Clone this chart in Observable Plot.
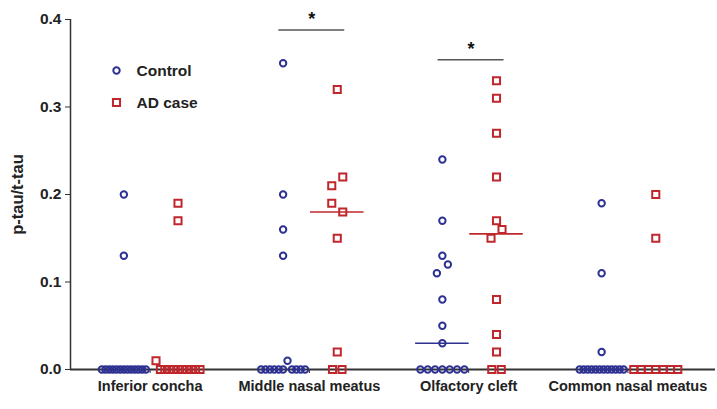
<!DOCTYPE html>
<html><head><meta charset="utf-8">
<script src="https://cdn.jsdelivr.net/npm/d3@7"></script>
<script src="https://cdn.jsdelivr.net/npm/@observablehq/plot@0.6"></script>
<style>
body{margin:0;background:#fff;}
svg text{font-weight:bold;}
</style>
</head><body><div id="chart"></div>
<script>
// ---- data ----
const groups = ["Inferior concha", "Middle nasal meatus", "Olfactory cleft", "Common nasal meatus"];
const seriesNames = ["Control", "AD case"];
const controlValues = [
  [0.20, 0.13, 0, 0, 0, 0, 0, 0, 0, 0, 0, 0, 0, 0, 0],
  [0.35, 0.20, 0.16, 0.13, 0, 0, 0, 0, 0, 0, 0.01, 0, 0, 0, 0],
  [0.24, 0.17, 0.13, 0.12, 0.11, 0.08, 0.05, 0.03, 0, 0, 0, 0, 0, 0, 0],
  [0.19, 0.11, 0.02, 0, 0, 0, 0, 0, 0, 0, 0, 0, 0, 0, 0]
];
const adValues = [
  [0.19, 0.17, 0.01, 0, 0, 0, 0, 0, 0, 0, 0, 0, 0],
  [0.32, 0.22, 0.21, 0.19, 0.18, 0.15, 0.02, 0, 0],
  [0.33, 0.31, 0.27, 0.22, 0.17, 0.16, 0.15, 0.08, 0.04, 0.02, 0, 0],
  [0.20, 0.15, 0, 0, 0, 0, 0, 0, 0]
];
const yTicks = [0, 0.1, 0.2, 0.3, 0.4];
const sigGroups = [1, 2];
const sigLevels = [0.388, 0.354];
const sigLabels = ["*", "*"];

// ---- layout (scatter "swarm" like GraphPad) ----
const colors = ["#2d3192", "#bf272d"];
const xDomain = [-0.5, 3.55];
const W = 717, ML = 70, MR = 2, MT = 19, MB = 40, H = 409;
const pxX = (W - ML - MR) / (xDomain[1] - xDomain[0]);
const sideOffset = [-0.165, 0.175];

function layout(values, gi, si) {
  const base = gi + sideOffset[si];
  const out = [];
  // row of (near) zero values, compressed to a fixed width
  const rowIdx = values.map((v, i) => i).filter(i => values[i] < 0.015);
  const n = rowIdx.length;
  const sp = n > 1 ? Math.min(9.5, 44 / (n - 1)) : 0;
  rowIdx.forEach((i, k) => out.push({v: values[i], x: base + (k - (n - 1) / 2) * sp / pxX}));
  // other values: clusters of close values are spread sideways
  const rest = values.filter(v => v >= 0.015).sort((a, b) => b - a);
  const clusters = [];
  for (const v of rest) {
    const last = clusters[clusters.length - 1];
    if (last && last[last.length - 1] - v < 0.015) last.push(v); else clusters.push([v]);
  }
  let side = 1;
  for (const c of clusters) {
    let offs;
    if (c.length === 1) offs = [0];
    else if (c.length === 2) { offs = [side * 5.5, -side * 5.5]; side = -side; }
    else offs = c.map((_, k) => k === 0 ? 0 : (k % 2 ? 1 : -1) * 5.5 * Math.ceil(k / 2));
    c.forEach((v, k) => out.push({v, x: base + offs[k] / pxX}));
  }
  return out;
}
const ctrlPts = controlValues.flatMap((vals, gi) => layout(vals, gi, 0));
const adPts = adValues.flatMap((vals, gi) => layout(vals, gi, 1));
const medians = [];
[controlValues, adValues].forEach((arr, si) => arr.forEach((vals, gi) => {
  const m = d3.median(vals);
  if (m > 0) medians.push({m, si, x1: gi + sideOffset[si] - 0.168, x2: gi + sideOffset[si] + 0.168});
}));
const sig = sigGroups.map((g, i) => ({x1: g + 0.015 - 0.207, x2: g + 0.015 + 0.207, xm: g + 0.015, y: sigLevels[i], t: sigLabels[i]}));

const plot = Plot.plot({
  width: W, height: H,
  marginLeft: ML, marginRight: MR, marginTop: MT, marginBottom: MB,
  x: {domain: xDomain, axis: null},
  y: {domain: [0, 0.4], axis: null},
  style: {fontFamily: "'Liberation Sans', Arial, sans-serif", background: "#fff", color: "#222"},
  marks: [
    Plot.axisY({ticks: yTicks, tickSize: 5, tickPadding: 4, tickFormat: d3.format(".1f"), fontSize: 15.5, label: null, stroke: "#333"}),
    Plot.axisX({ticks: [0, 1, 2, 3], tickSize: 4, tickPadding: 7, tickFormat: i => groups[i], fontSize: 14.5, label: null, stroke: "#333"}),
    Plot.text(["p-tau/t-tau"], {frameAnchor: "left", rotate: -90, dx: -53, textAnchor: "middle", lineAnchor: "middle", fontSize: 16.5, fill: "#222"}),
    Plot.ruleX([xDomain[0]], {stroke: "#333", strokeWidth: 1.5}),
    Plot.ruleY([0], {stroke: "#333", strokeWidth: 2}),
    Plot.ruleY(medians, {y: "m", x1: "x1", x2: "x2", stroke: d => colors[d.si], strokeWidth: 1.6}),
    Plot.dot(ctrlPts, {x: "x", y: "v", symbol: "circle", r: 3.2, stroke: colors[0], strokeWidth: 2, fill: "none"}),
    Plot.dot(adPts, {x: "x", y: "v", symbol: "square", r: 4, stroke: colors[1], strokeWidth: 2, fill: "none"}),
    Plot.ruleY(sig, {y: "y", x1: "x1", x2: "x2", stroke: "#555", strokeWidth: 1.5}),
    Plot.text(sig, {x: "xm", y: "y", text: "t", dy: -11, fontSize: 18, fill: "#111"}),
    Plot.dot([seriesNames[0]], {frameAnchor: "top-left", dx: 46, dy: 51, symbol: "circle", r: 3.2, stroke: colors[0], strokeWidth: 2, fill: "none"}),
    Plot.dot([seriesNames[1]], {frameAnchor: "top-left", dx: 46, dy: 83, symbol: "square", r: 4, stroke: colors[1], strokeWidth: 2, fill: "none"}),
    Plot.text([seriesNames[0]], {frameAnchor: "top-left", dx: 66, dy: 52, text: d => d, textAnchor: "start", lineAnchor: "middle", fontSize: 15.5, fill: "#222"}),
    Plot.text([seriesNames[1]], {frameAnchor: "top-left", dx: 66, dy: 84, text: d => d, textAnchor: "start", lineAnchor: "middle", fontSize: 15.5, fill: "#222"})
  ]
});
document.getElementById("chart").appendChild(plot);
</script>
</body></html>
